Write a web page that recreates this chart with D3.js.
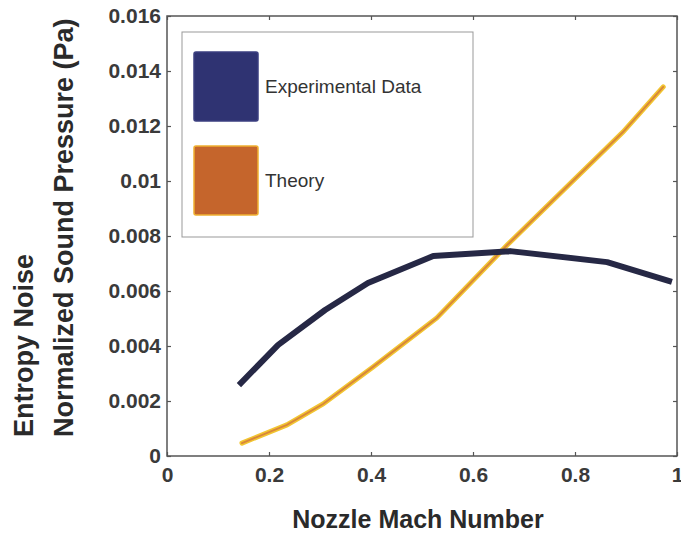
<!DOCTYPE html>
<html>
<head>
<meta charset="utf-8">
<script src="https://cdn.jsdelivr.net/npm/d3@7"></script>
<style>
  body { margin: 0; background: #fff; }
  svg { display: block; font-family: "Liberation Sans", Arial, sans-serif; }
</style>
</head>
<body>
<svg width="681" height="533"></svg>
<script>
// data
var expMach = [0.141, 0.218, 0.31, 0.394, 0.522, 0.673, 0.863, 0.99];
var expPressure = [0.00258, 0.00404, 0.00531, 0.00629, 0.00727, 0.00745, 0.00705, 0.00633];
var theoryMach = [0.147, 0.235, 0.306, 0.404, 0.529, 0.667, 0.894, 0.973];
var theoryPressure = [0.00047, 0.00113, 0.00189, 0.00324, 0.00502, 0.00767, 0.01178, 0.01342];
var xTicks = [0, 0.2, 0.4, 0.6, 0.8, 1];
var yTicks = [0, 0.002, 0.004, 0.006, 0.008, 0.01, 0.012, 0.014, 0.016];
var legendNames = ["Experimental Data", "Theory"];

var svg = d3.select("svg");
var margin = {left: 167, right: 4, top: 16, bottom: 77};
var width = 681, height = 533;

var x = d3.scaleLinear().domain([0, 1]).range([margin.left, width - margin.right]);
var y = d3.scaleLinear().domain([0, 0.016]).range([height - margin.bottom, margin.top]);

var axisColor = "#555";
var fmt = function (d) { return d === 0 ? "0" : String(+d.toFixed(3)); };

// frame
svg.append("rect")
  .attr("x", x(0)).attr("y", y(0.016))
  .attr("width", x(1) - x(0)).attr("height", y(0) - y(0.016))
  .attr("fill", "none").attr("stroke", axisColor).attr("stroke-width", 1.5);

function styleAxis(g) {
  g.select(".domain").remove();
  g.selectAll(".tick line").attr("stroke", axisColor).attr("stroke-width", 1.2);
  g.selectAll(".tick text").attr("fill", "#3a3a3a").attr("font-size", 21).attr("font-weight", "bold");
}

svg.append("g").attr("transform", "translate(0," + y(0) + ")")
  .call(d3.axisBottom(x).tickValues(xTicks).tickFormat(fmt).tickSizeInner(-4).tickPadding(11))
  .call(styleAxis);
svg.append("g").attr("transform", "translate(0," + y(0.016) + ")")
  .call(d3.axisTop(x).tickValues(xTicks).tickFormat("").tickSizeInner(-4))
  .call(styleAxis);
svg.append("g").attr("transform", "translate(" + x(0) + ",0)")
  .call(d3.axisLeft(y).tickValues(yTicks).tickFormat(fmt).tickSizeInner(-4).tickPadding(6))
  .call(styleAxis);
svg.append("g").attr("transform", "translate(" + x(1) + ",0)")
  .call(d3.axisRight(y).tickValues(yTicks).tickFormat("").tickSizeInner(-4))
  .call(styleAxis);

var line = d3.line().x(function (d) { return x(d[0]); }).y(function (d) { return y(d[1]); });

var theory = d3.zip(theoryMach, theoryPressure);
var experiment = d3.zip(expMach, expPressure);

svg.append("path").datum(theory).attr("d", line)
  .attr("fill", "none").attr("stroke", "#f2c531").attr("stroke-width", 5).attr("stroke-linecap", "round");
svg.append("path").datum(theory).attr("d", line)
  .attr("fill", "none").attr("stroke", "#d8873a").attr("stroke-width", 2).attr("stroke-linecap", "round");
svg.append("path").datum(experiment).attr("d", line)
  .attr("fill", "none").attr("stroke", "#262845").attr("stroke-width", 6).attr("stroke-linejoin", "round");

// legend
var lg = svg.append("g");
lg.append("rect").attr("x", 182).attr("y", 32).attr("width", 291).attr("height", 205)
  .attr("fill", "#fff").attr("stroke", "#999").attr("stroke-width", 1);
var swatch = [{fill: "#2f3372", stroke: "#3b3f80"}, {fill: "#c5652c", stroke: "#f0b030"}];
legendNames.forEach(function (name, i) {
  var top = 52 + i * 94;
  lg.append("rect").attr("x", 194).attr("y", top).attr("width", 64).attr("height", 69)
    .attr("rx", 2).attr("fill", swatch[i].fill).attr("stroke", swatch[i].stroke).attr("stroke-width", 1.5);
  lg.append("text").attr("x", 265).attr("y", top + 41).text(name)
    .attr("font-size", 19).attr("fill", "#333");
});

// axis titles
svg.append("text").attr("x", 418).attr("y", 528).attr("text-anchor", "middle")
  .attr("font-size", 25).attr("font-weight", "bold").attr("fill", "#2a2a2a")
  .text("Nozzle Mach Number");
svg.append("text").attr("transform", "translate(33,437) rotate(-90)")
  .attr("font-size", 27).attr("font-weight", "bold").attr("fill", "#2a2a2a")
  .text("Entropy Noise");
svg.append("text").attr("transform", "translate(73,437) rotate(-90)")
  .attr("font-size", 27).attr("font-weight", "bold").attr("fill", "#2a2a2a")
  .text("Normalized Sound Pressure (Pa)");
</script>
</body>
</html>
